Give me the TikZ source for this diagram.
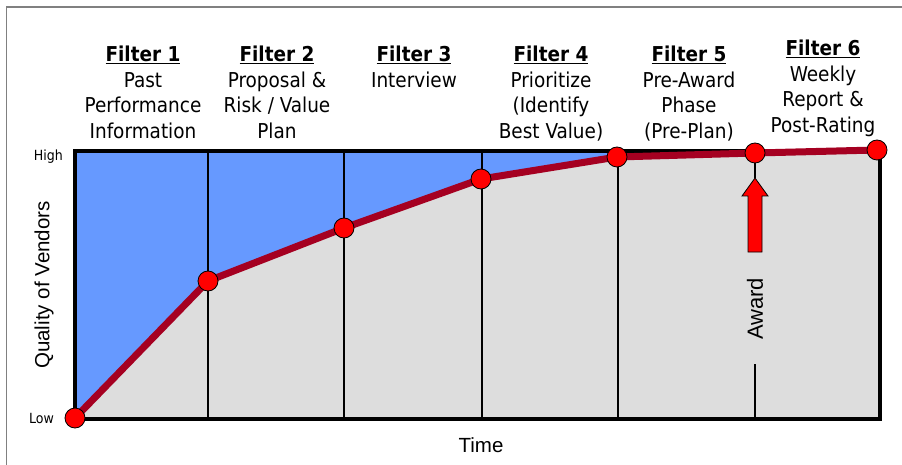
\documentclass[tikz,border=0pt]{standalone}
\usepackage{fontspec}
\setmainfont{DejaVu Sans Condensed}
\newfontfamily\arialfont{Liberation Sans}
\usepackage{tikz}
\definecolor{skyblue}{HTML}{6699FF}
\definecolor{panelgray}{HTML}{DDDDDD}
\definecolor{curvered}{HTML}{A50021}
\tikzset{
  dot/.style={circle, fill=red, draw=black, line width=0.8pt, minimum size=20pt, inner sep=0pt},
  filterlabel/.style={anchor=north, align=center, inner sep=0pt, font=\fontsize{20.5}{25.5}\selectfont},
  axislabel/.style={inner sep=0pt, font=\arialfont\fontsize{20.5}{24}\selectfont}
}
\newcommand{\ftitle}[1]{\textbf{\underline{Filter #1}}}

\begin{document}
\begin{tikzpicture}[x=1pt, y=-1pt]
		\useasboundingbox (0,0) rectangle (902,465);
		\draw[gray, line width=1.5pt] (6.5,465) -- (6.5,7) -- (902,7);
		\coordinate (NW) at (75,151);
		\coordinate (SE) at (880,419);
		\coordinate (p0) at (75,418);
		\coordinate (p1) at (208,281);
		\coordinate (p2) at (344,228);
		\coordinate (p3) at (481,179);
		\coordinate (p4) at (617,157);
		\coordinate (p5) at (755,153);
		\coordinate (p6) at (877,150);
		\fill[panelgray] (NW) rectangle (SE);
		\fill[skyblue] (NW) -- (p0) -- (p1) -- (p2) -- (p3) -- (p4) -- (617,151) -- cycle;
		\foreach \x in {208,344,482,618}
			\draw[line width=2pt] (\x,151) -- (\x,419);
		\draw[line width=4pt] (NW) rectangle (SE);
		% award marker
		\coordinate (tip) at (755,178);
		\coordinate (low) at (755,418);
		\draw[line width=1.5pt] (p5) -- (tip);
		\node[axislabel, rotate=90, font=\arialfont\fontsize{22}{24}\selectfont] (award) at (755,309) {Award};
		\draw[line width=1.5pt] (755,364) -- (low);
		\draw[fill=red, line width=0.8pt] (tip) -- (768,196) -- (762,196) -- (762,252)
			-- (748,252) -- (748,196) -- (742,196) -- cycle;
		\draw[curvered, line width=7pt, line join=round] (p0) -- (p1) -- (p2) -- (p3) -- (p4) -- (p5) -- (p6);
		\foreach \p in {0,...,6}
			\node[dot] (d\p) at (p\p) {};
		% headings
		\node[filterlabel] (f1) at (143,46) {\ftitle{1}\\Past\\Performance\\Information};
		\node[filterlabel] (f2) at (277,46) {\ftitle{2}\\Proposal \&\\Risk / Value\\Plan};
		\node[filterlabel] (f3) at (414,46) {\ftitle{3}\\Interview};
		\node[filterlabel] (f4) at (551,46) {\ftitle{4}\\Prioritize\\(Identify\\Best Value)};
		\node[filterlabel] (f5) at (689,46) {\ftitle{5}\\Pre-Award\\Phase\\(Pre-Plan)};
		\node[filterlabel] (f6) at (823,40) {\ftitle{6}\\Weekly\\Report \&\\Post-Rating};
		% axes
		\node[inner sep=0pt, anchor=east, font=\fontsize{14}{16}\selectfont] (high) at (63,157) {High};
		\node[inner sep=0pt, anchor=east, font=\fontsize{14}{16}\selectfont] (lowlab) at (54,418) {Low};
		\node[axislabel, rotate=90] (quality) at (44,285) {Quality of Vendors};
		\node[axislabel] (time) at (481,445) {Time};
\end{tikzpicture}
\end{document}
